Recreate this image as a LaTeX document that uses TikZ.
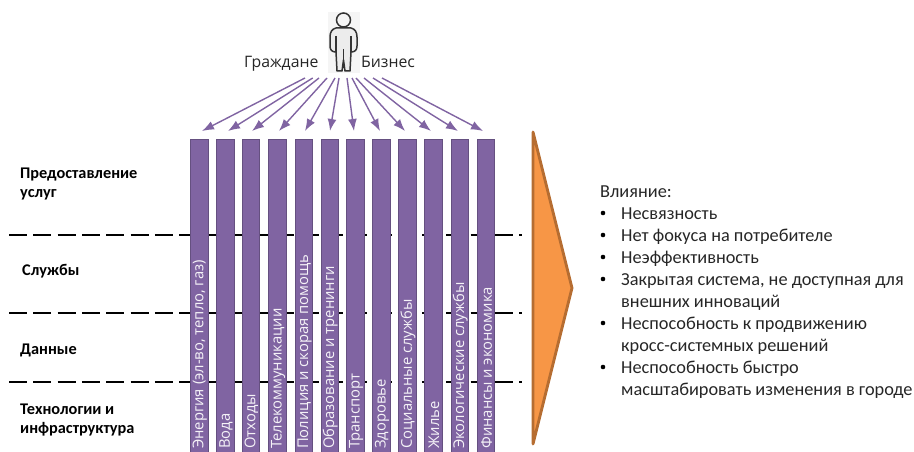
\documentclass[tikz,border=0pt]{standalone}
\usepackage{fontspec}
\setmainfont{Open Sans}
\newfontfamily\calfont{Carlito}
\usetikzlibrary{arrows.meta}
\definecolor{barfill}{HTML}{8064A2}
\definecolor{barline}{HTML}{655080}
\definecolor{triline}{HTML}{B66D31}
\definecolor{trifill}{HTML}{F79646}
\definecolor{inktext}{HTML}{262626}
\tikzset{
 barbox/.style={draw=barline,line width=0.9pt,fill=barfill,minimum width=17.5pt,inner sep=0,outer sep=0},
 bartext/.style={rotate=90,anchor=west,text=white,font=\fontsize{14.8}{16}\selectfont,inner sep=0,text opacity=.92},
 feed/.style={draw=barfill,line width=1.4pt,-{Latex[length=12pt,width=9pt]}},
 level/.style={line width=1.7pt,dash pattern=on 18pt off 6.3pt,draw=black},
 sidelabel/.style={font=\calfont\fontsize{16.3}{17}\selectfont\bfseries,anchor=base west,inner sep=0,text=black},
 toplabel/.style={font=\fontsize{15.8}{16}\selectfont,text=inktext,inner sep=0,anchor=base west},
 impact/.style={font=\calfont\fontsize{18.3}{22}\selectfont,text=inktext,inner sep=0,anchor=base west},
 dotmark/.style={circle,fill=black,inner sep=0,minimum size=4.6pt},
}
\begin{document}
\begin{tikzpicture}[x=1pt,y=-1pt]
\useasboundingbox (0,0) rectangle (914,452);
\clip (0,0) rectangle (914,452);
% level lines
\foreach \n/\y in {a/235,b/313,c/382}{
 \coordinate (l\n) at (9,\y); \coordinate (r\n) at (522,\y);
 \draw[level] (l\n) -- (r\n);
}
% person
\fill[gray!8!white] (328,12) rectangle (360,73);
\node[circle,draw=black!80,line width=1.5pt,minimum size=14pt,inner sep=0] (head) at (343.5,20) {};
\draw[black!80,line width=1.5pt,line join=round,fill=gray!15!white]
 (336,28) .. controls (332,29) and (330,32) .. (330,37) -- (330,46)
 .. controls (330,50) and (332,52) .. (336,52) -- (337,71) -- (342,71) -- (343.5,60) -- (345,71) -- (350,71) -- (351,52)
 .. controls (355,52) and (357,50) .. (357,46) -- (357,37) .. controls (357,32) and (355,29) .. (351,28) -- cycle;
\draw[black!80,line width=1.5pt] (336,36) -- (336,52) (351,36) -- (351,52) (343.5,49) -- (343.5,68);
\node[toplabel] (citizens) at (244,68) {Граждане};
\node[toplabel] (business) at (361,68) {Бизнес};
% bars
\foreach \i/\x/\t in {1/199.2/{Энергия (эл-во, тепло, газ)},2/225.5/Вода,3/251/Отходы,4/277.5/Телекоммуникации,5/304/Полиция и скорая помощь,6/329.7/Образование и тренинги,7/355.5/Транспорт,8/381.5/Здоровье,9/407.5/Социальные службы,10/433.5/Жилье,11/459.7/Экологические службы,12/486/Финансы и экономика}{
 \node[barbox,minimum height=318pt,anchor=north] (bar\i) at (\x,139) {};
 \node[bartext] (txt\i) at (\x+0.5,449) {\t};
}
% arrows
\foreach \i/\sx/\ex in {1/305/202,2/312.7/228,3/319/252,4/327/279,5/335/305,6/339/330,7/347/354,8/352/380,9/356/405,10/364/431,11/373/458,12/382/483}{
 \coordinate (s\i) at (\sx,78);
 \coordinate (e\i) at (\ex,131);
 \draw[feed] (s\i) -- (e\i);
}
% triangle
\draw[draw=triline,fill=trifill,line width=2.8pt,line join=round] (533,132) -- (572,288) -- (533,444) -- cycle;
% left labels
\node[sidelabel] (svc) at (20,178) {Предоставление};
\node[sidelabel] (svb) at (20,197.5) {услуг};
\node[sidelabel] (srv) at (22,275) {Службы};
\node[sidelabel] (dat) at (20,354) {Данные};
\node[sidelabel] (tech) at (20,414) {Технологии и};
\node[sidelabel] (tecb) at (20,433) {инфраструктура};
% impact
\node[impact] (i0) at (600,197) {Влияние:};
\foreach \n/\y/\b/\t in {1/219/1/Несвязность,2/241/1/Нет фокуса на потребителе,3/263/1/Неэффективность,4/285/1/{Закрытая система, не доступная для},5/307/0/внешних инноваций,6/329/1/Неспособность к продвижению,7/351/0/кросс-системных решений,8/373/1/Неспособность быстро,9/395/0/масштабировать изменения в городе}{
 \node[impact] (i\n) at (621,\y) {\t};
 \ifnum\b=1 \node[dotmark] (d\n) at (603,\y-6) {};\fi
}
\end{tikzpicture}
\end{document}
